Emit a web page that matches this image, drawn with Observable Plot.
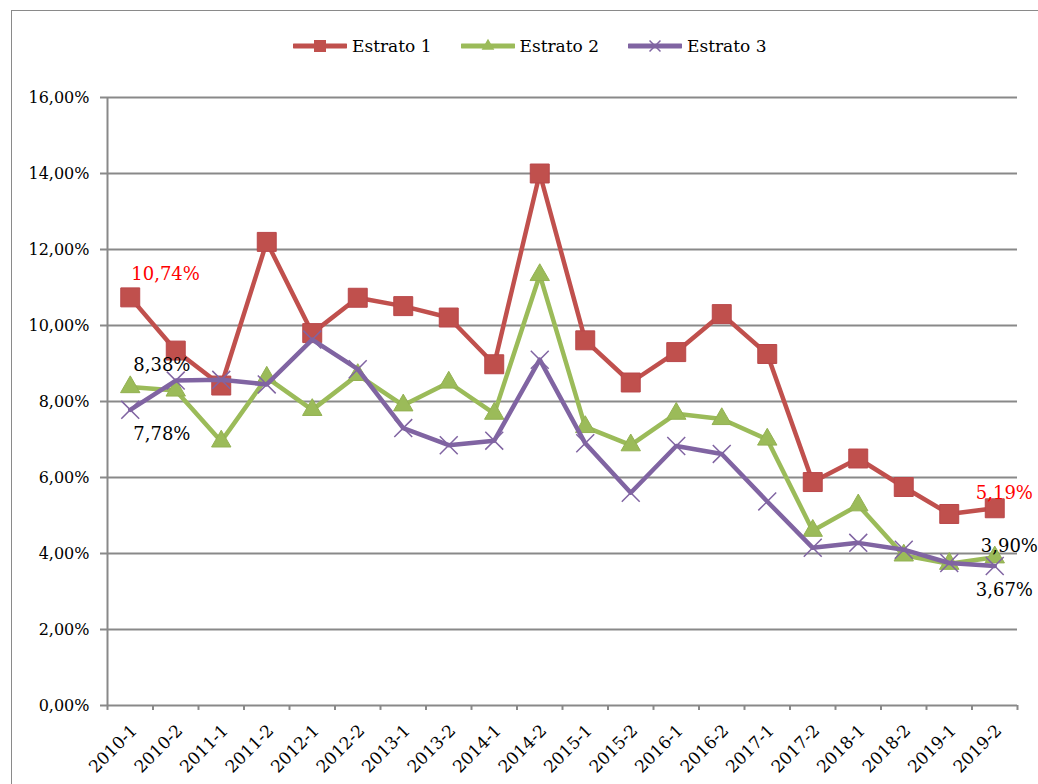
<!DOCTYPE html>
<html><head><meta charset="utf-8">
<script src="https://cdn.jsdelivr.net/npm/d3@7"></script>
<script src="https://cdn.jsdelivr.net/npm/@observablehq/plot@0.6"></script>
<style>
html,body{margin:0;padding:0;background:#fff;overflow:hidden;width:1038px;height:784px}
#frame{position:absolute;left:11px;top:10px;width:1100px;height:900px;border:1.5px solid #8a8a8a;box-sizing:border-box}
#legend{position:absolute;left:293px;top:36px;display:flex;align-items:center;font-family:"DejaVu Serif";font-size:17px;height:20px;color:#000}
#legend .item{display:flex;align-items:center;margin-right:29px}
#legend svg{margin-right:5px;display:block}
#chart{position:absolute;left:0;top:80px}
</style></head><body>
<div id="frame"></div>
<div id="legend"></div>
<div id="chart"></div>
<script>
const categories = ["2010-1","2010-2","2011-1","2011-2","2012-1","2012-2","2013-1","2013-2","2014-1","2014-2",
                    "2015-1","2015-2","2016-1","2016-2","2017-1","2017-2","2018-1","2018-2","2019-1","2019-2"];
const seriesNames = ["Estrato 1","Estrato 2","Estrato 3"];
const estrato1 = [10.74, 9.34, 8.42, 12.20, 9.80, 10.73, 10.51, 10.21, 8.98, 14.00, 9.61, 8.50, 9.30, 10.30, 9.25, 5.88, 6.50, 5.75, 5.04, 5.19];
const estrato2 = [8.38, 8.29, 6.95, 8.63, 7.78, 8.70, 7.90, 8.50, 7.68, 11.33, 7.33, 6.85, 7.68, 7.54, 7.00, 4.60, 5.27, 3.95, 3.73, 3.90];
const estrato3 = [7.78, 8.55, 8.57, 8.45, 9.63, 8.85, 7.30, 6.85, 6.97, 9.10, 6.90, 5.60, 6.83, 6.62, 5.37, 4.15, 4.28, 4.10, 3.75, 3.67];
const yTicks = [0, 2, 4, 6, 8, 10, 12, 14, 16];
// labelled points: [series, category]
const labelPoints = [["Estrato 1","2010-1"],["Estrato 2","2010-1"],["Estrato 3","2010-1"],
                     ["Estrato 1","2019-2"],["Estrato 2","2019-2"],["Estrato 3","2019-2"]];

const colors = {"Estrato 1":"#C0504D","Estrato 2":"#9BBB59","Estrato 3":"#8064A2"};
const symbols = {"Estrato 1":"square","Estrato 2":"triangle","Estrato 3":"times"};
const values = [estrato1, estrato2, estrato3];
const data = seriesNames.flatMap((s, j) => values[j].map((v, i) => ({serie: s, cat: categories[i], value: v})));
const fmt = v => v.toFixed(2).replace(".", ",") + "%";

// label offsets (style, not data)
const labelStyle = {
  "Estrato 1|2010-1": {dx: 1, dy: -23, fill: "#FF0000"},
  "Estrato 2|2010-1": {dx: 3, dy: -22, fill: "#000"},
  "Estrato 3|2010-1": {dx: 3, dy: 24, fill: "#000"},
  "Estrato 1|2019-2": {dx: -19, dy: -15, fill: "#FF0000"},
  "Estrato 2|2019-2": {dx: -14, dy: -11, fill: "#000"},
  "Estrato 3|2019-2": {dx: -19, dy: 24, fill: "#000"}
};

const gray = "#898989";
const half = 910 / categories.length / 2;

const marks = [
  Plot.gridY(yTicks, {stroke: gray, strokeOpacity: 1, strokeWidth: 2}),
  Plot.ruleX([categories[0]], {dx: -half, y1: 0, y2: 16, stroke: gray, strokeWidth: 2}),
  Plot.ruleX(categories, {dx: -half, y1: 0, y2: -0.13, stroke: gray, strokeWidth: 2}),
  Plot.ruleX([categories[categories.length - 1]], {dx: half, y1: 0, y2: -0.13, stroke: gray, strokeWidth: 2}),
  Plot.axisY(yTicks, {label: null, tickSize: 7, tickPadding: 11, tickFormat: fmt, stroke: gray, strokeWidth: 2, fill: "#000", fontSize: 16}),
  Plot.text(categories, {x: d => d, y: 0, text: d => d, rotate: -45, textAnchor: "end", lineAnchor: "bottom", dx: 8, dy: 26, fontSize: 17, fill: "#000"})
];

for (const s of seriesNames) {
  const d = data.filter(p => p.serie === s);
  marks.push(Plot.line(d, {x: "cat", y: "value", stroke: colors[s], strokeWidth: 4.5, strokeLinejoin: "round", strokeLinecap: "round"}));
  if (s === "Estrato 1") {
    marks.push(Plot.dot(d, {x: "cat", y: "value", symbol: "square", r: 10.7, fill: colors[s], stroke: "#B9474A", strokeWidth: 1}));
  } else if (s === "Estrato 2") {
    marks.push(Plot.dot(d, {x: "cat", y: "value", symbol: "triangle", r: 7.2, fill: colors[s], stroke: "#93B152", strokeWidth: 1}));
  } else {
    marks.push(Plot.dot(d, {x: "cat", y: "value", symbol: "times", r: 8.2, stroke: colors[s], strokeWidth: 1.5, fill: "none"}));
  }
}

for (const [s, c] of labelPoints) {
  const key = s + "|" + c;
  const st = labelStyle[key];
  const pt = data.filter(p => p.serie === s && p.cat === c);
  marks.push(Plot.text(pt, {x: "cat", y: "value", text: p => fmt(p.value), textAnchor: "start", fontSize: 18, fill: st.fill, dx: st.dx, dy: st.dy}));
}

const chart = Plot.plot({
  width: 1038, height: 704,
  marginTop: 17, marginBottom: 79, marginLeft: 107, marginRight: 21,
  style: {fontFamily: "DejaVu Serif", fontSize: "16px", background: "transparent", overflow: "visible", color: "#000"},
  x: {type: "point", domain: categories, padding: 0.5, round: false, axis: null},
  y: {domain: [0, 16], axis: null},
  marks
});
document.getElementById("chart").appendChild(chart);

// legend
const legend = d3.select("#legend");
for (const s of seriesNames) {
  const item = legend.append("div").attr("class", "item");
  const svg = item.append("svg").attr("width", 54).attr("height", 20);
  svg.append("line").attr("x1", 1).attr("x2", 53).attr("y1", 10).attr("y2", 10)
     .attr("stroke", colors[s]).attr("stroke-width", 5).attr("stroke-linecap", "round");
  const sym = d3.symbol().type(symbols[s] === "square" ? d3.symbolSquare : symbols[s] === "triangle" ? d3.symbolTriangle : d3.symbolTimes)
    .size(symbols[s] === "square" ? 144 : symbols[s] === "triangle" ? 70 : 80);
  svg.append("path").attr("d", sym()).attr("transform", "translate(27,10)")
     .attr("fill", symbols[s] === "times" ? "none" : colors[s])
     .attr("stroke", colors[s]).attr("stroke-width", symbols[s] === "times" ? 1.5 : 0);
  item.append("span").text(s);
}
</script>
</body></html>
